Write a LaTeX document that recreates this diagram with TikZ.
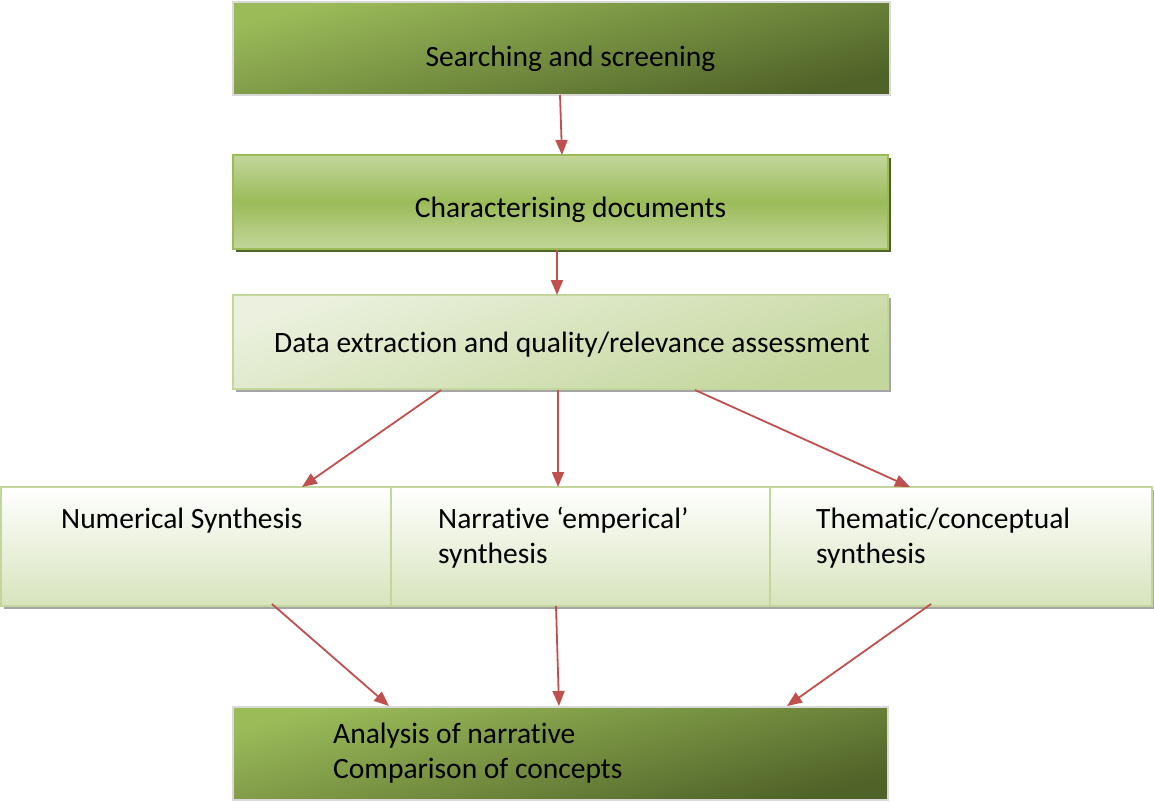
\documentclass[tikz,border=0pt]{standalone}
\usepackage{fontspec}
\setmainfont[Ligatures={NoCommon,NoContextual},Contextuals=NoAlternate]{Carlito}
\usetikzlibrary{arrows.meta,shadows}
\newcommand{\nolig}{\kern0pt }
\definecolor{gmid}{HTML}{9BBB59}
\definecolor{gdark}{HTML}{4F6228}
\definecolor{glight}{HTML}{C3D69B}
\definecolor{gpale}{HTML}{EBF1DE}
\definecolor{gpale2}{HTML}{D7E4BC}
\definecolor{arr}{HTML}{C0504D}
\definecolor{bord}{HTML}{D9D9D9}
\definecolor{shgray}{HTML}{A5A5A5}
\tikzset{
  boxbase/.style={rectangle, inner sep=0pt, outer sep=0pt},
  darkbox/.style={boxbase, draw=bord, line width=1.5pt, top color=gmid, middle color=gmid!72!gdark, bottom color=gdark, shading angle=14},
  midbox/.style={boxbase, draw=gmid, line width=1.5pt, top color=glight, bottom color=glight, middle color=gmid,
     general shadow={fill=gdark, shadow xshift=3pt, shadow yshift=-3pt}},
  lightbox/.style={boxbase, draw=glight, line width=1.5pt, top color=gpale, bottom color=glight, shading angle=18,
     general shadow={fill=shgray, shadow xshift=3pt, shadow yshift=-3pt}},
  rowbox/.style={boxbase, draw=glight, line width=1.5pt, top color=white, bottom color=gpale2,
     general shadow={fill=shgray, shadow xshift=3pt, shadow yshift=-3pt}},
  lbl/.style={inner sep=0pt, font=\fontsize{29.5}{35}\selectfont},
  conn/.style={draw=arr, line width=1.8pt, -{Triangle[length=15pt,width=12pt]}},
}
\begin{document}
\begin{tikzpicture}[x=1pt,y=-1pt]
\useasboundingbox (0,0) rectangle (1154,801);
% boxes
\node[darkbox, minimum width=657pt, minimum height=93pt] (s1) at (561.5,48.5) {};
\node[midbox, minimum width=655pt, minimum height=94pt] (s2) at (560.5,202) {};
\node[lightbox, minimum width=655pt, minimum height=94pt] (s3) at (560.5,342) {};
\node[rowbox, minimum width=390pt, minimum height=119pt] (ra) at (196,546.5) {};
\node[rowbox, minimum width=379pt, minimum height=119pt] (rb) at (580.5,546.5) {};
\node[rowbox, minimum width=382pt, minimum height=119pt] (rc) at (961,546.5) {};
\node[darkbox, minimum width=655pt, minimum height=93pt] (s5) at (560.5,753.5) {};
% texts
\node[lbl, anchor=base] (t1) at (570.5,66) {Searching and screening};
\node[lbl, anchor=base] (t2) at (570.5,217) {Characterising documents};
\node[lbl, anchor=base west] (t3) at (274,352) {Data extract\nolig ion and quality/relevance assessment};
\node[lbl, anchor=base west] (ta) at (61,528) {Numerical Synthesis};
\node[lbl, anchor=base west] (tb1) at (438,528) {Narrat\nolig ive ‘emperical’};
\node[lbl, anchor=base west] (tb2) at (438,563) {synthesis};
\node[lbl, anchor=base west] (tc1) at (816,528) {Themat\nolig ic/conceptual};
\node[lbl, anchor=base west] (tc2) at (816,563) {synthesis};
\node[lbl, anchor=base west] (t51) at (333,743) {Analysis of narrat\nolig ive};
\node[lbl, anchor=base west] (t52) at (333,778) {Comparison of concepts};
% connector end points
\coordinate (a1s) at (560,95);   \coordinate (a1e) at (562,155);
\coordinate (a2s) at (557,250);  \coordinate (a2e) at (557,295);
\coordinate (a3s) at (441,390);  \coordinate (a3e) at (302,487);
\coordinate (a4s) at (558,390);  \coordinate (a4e) at (558,487);
\coordinate (a5s) at (695,390);  \coordinate (a5e) at (910,487);
\coordinate (a6s) at (272,604);  \coordinate (a6e) at (389,706);
\coordinate (a7s) at (556,606);  \coordinate (a7e) at (559,706);
\coordinate (a8s) at (931,604);  \coordinate (a8e) at (787,706);
\draw[conn] (a1s) -- (a1e);
\draw[conn] (a2s) -- (a2e);
\draw[conn] (a3s) -- (a3e);
\draw[conn] (a4s) -- (a4e);
\draw[conn] (a5s) -- (a5e);
\draw[conn] (a6s) -- (a6e);
\draw[conn] (a7s) -- (a7e);
\draw[conn] (a8s) -- (a8e);
\end{tikzpicture}
\end{document}
